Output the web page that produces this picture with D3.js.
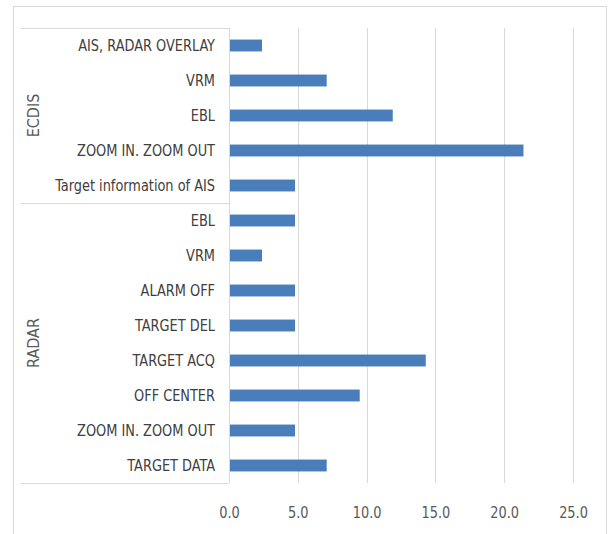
<!DOCTYPE html>
<html>
<head>
<meta charset="utf-8">
<script src="https://cdn.jsdelivr.net/npm/d3@7"></script>
<style>
  body { margin: 0; background: #fff; }
  svg text { font-family: "DejaVu Sans Condensed", "Roboto", sans-serif; }
</style>
</head>
<body>
<svg id="chart" width="609" height="534"></svg>
<script>
// items top to bottom, grouped
var categories = ["AIS, RADAR OVERLAY", "VRM", "EBL", "ZOOM IN. ZOOM OUT", "Target information of AIS",
  "EBL", "VRM", "ALARM OFF", "TARGET DEL", "TARGET ACQ", "OFF CENTER", "ZOOM IN. ZOOM OUT", "TARGET DATA"];
var values = [2.4, 7.1, 11.9, 21.4, 4.8, 4.8, 2.4, 4.8, 4.8, 14.3, 9.5, 4.8, 7.1];
var groups = ["ECDIS", "RADAR"];
var groupSizes = [5, 8];
var ticks = [0, 5, 10, 15, 20, 25];

var svg = d3.select('#chart');

var plotLeft = 229, plotRight = 573, plotTop = 28, plotBottom = 483;
var squeeze = 0.87; // narrow look of the labels

var x = d3.scaleLinear()
  .domain([0, 25])
  .range([plotLeft, plotRight]);

var ids = categories.map(function(d, i) { return i; });
var y = d3.scaleBand()
  .domain(ids)
  .range([plotTop, plotBottom])
  .paddingInner(0.66)
  .paddingOuter(0.33);

// chart border
svg.append('rect')
  .attr('x', 13.5).attr('y', 6.5)
  .attr('width', 593).attr('height', 540)
  .attr('fill', 'none')
  .attr('stroke', '#d9d9d9');

// gridlines
svg.append('g')
  .selectAll('line')
  .data(ticks.slice(1))
  .enter().append('line')
  .attr('x1', function(d) { return Math.round(x(d)) + 0.5; })
  .attr('x2', function(d) { return Math.round(x(d)) + 0.5; })
  .attr('y1', plotTop)
  .attr('y2', plotBottom)
  .attr('stroke', '#d9d9d9');

// bars
svg.append('g')
  .selectAll('rect')
  .data(values)
  .enter().append('rect')
  .attr('x', x(0))
  .attr('y', function(d, i) { return y(i); })
  .attr('width', function(d) { return x(d) - x(0); })
  .attr('height', y.bandwidth())
  .attr('fill', '#4a7ebb');

// category labels
svg.append('g')
  .selectAll('text')
  .data(categories)
  .enter().append('text')
  .attr('transform', function(d, i) {
    return 'translate(215,' + (y(i) + y.bandwidth() / 2) + ') scale(' + squeeze + ',1)';
  })
  .attr('dy', '0.36em')
  .attr('text-anchor', 'end')
  .attr('font-size', 16.5)
  .attr('fill', '#404040')
  .text(function(d) { return d; });

// group boxes
var step = y.step();
var g0 = plotTop;
var boundaries = [plotTop];
groupSizes.forEach(function(n) { g0 += n * step; boundaries.push(g0); });
boundaries[boundaries.length - 1] = plotBottom;

svg.append('g')
  .selectAll('line')
  .data(boundaries)
  .enter().append('line')
  .attr('x1', 21)
  .attr('x2', plotLeft)
  .attr('y1', function(d) { return Math.round(d) + 0.5; })
  .attr('y2', function(d) { return Math.round(d) + 0.5; })
  .attr('stroke', '#d9d9d9');

svg.append('line')
  .attr('x1', plotLeft + 0.5).attr('x2', plotLeft + 0.5)
  .attr('y1', plotTop).attr('y2', plotBottom)
  .attr('stroke', '#d9d9d9');

svg.append('g')
  .selectAll('text')
  .data(groups)
  .enter().append('text')
  .attr('transform', function(d, i) {
    var cy = (boundaries[i] + boundaries[i + 1]) / 2;
    return 'translate(33,' + cy + ') rotate(-90)';
  })
  .attr('dy', '0.36em')
  .attr('text-anchor', 'middle')
  .attr('font-size', 16)
  .attr('fill', '#595959')
  .text(function(d) { return d; });

// x axis
var xAxis = d3.axisBottom(x)
  .tickValues(ticks)
  .tickFormat(d3.format('.1f'))
  .tickSize(0)
  .tickPadding(0);

svg.append('g')
  .attr('transform', 'translate(0,' + (plotBottom + 29) + ')')
  .call(xAxis)
  .call(function(g) { g.select('.domain').remove(); })
  .selectAll('text')
  .attr('y', 0)
  .attr('dy', '0.36em')
  .attr('transform', 'scale(' + squeeze + ',1)')
  .attr('font-size', 16.5)
  .attr('fill', '#595959');
</script>
</body>
</html>
